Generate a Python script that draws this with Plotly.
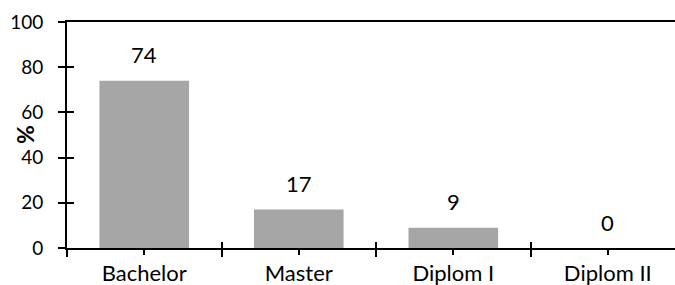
import plotly.graph_objects as go

categories = ["Bachelor", "Master", "Diplom I", "Diplom II"]
values = [74, 17, 9, 0]
y_ticks = [0, 20, 40, 60, 80, 100]
y_title = "%"

FONT = "Lato"
x_pos = list(range(len(categories)))
boundaries = [i - 0.5 for i in x_pos]
xr = [-0.5, 3.435]

fig = go.Figure()
fig.add_trace(go.Bar(x=x_pos, y=values, width=0.58, marker=dict(color="#A6A6A6", line=dict(width=0)),
                     hoverinfo="skip"))
fig.add_trace(go.Scatter(x=[None], y=[None], xaxis="x", yaxis="y2", showlegend=False, hoverinfo="skip"))
fig.add_trace(go.Scatter(x=[None], y=[None], xaxis="x2", yaxis="y", showlegend=False, hoverinfo="skip"))

for xv, v in zip(x_pos, values):
    fig.add_annotation(x=xv, y=v, text=str(v), showarrow=False, yanchor="middle", yshift=26,
                       font=dict(family=FONT, size=22, color="black"))

fig.add_annotation(x=0, y=0.5, xref="paper", yref="paper", text="<b>" + y_title + "</b>",
                   showarrow=False, textangle=-90, xanchor="center", yanchor="middle", xshift=-42,
                   font=dict(family=FONT, size=23, color="black"))

fig.update_layout(
    width=675, height=285,
    margin=dict(l=67, r=0, t=22, b=37),
    paper_bgcolor="white", plot_bgcolor="white",
    showlegend=False,
    font=dict(family=FONT, size=19, color="black"),
    xaxis=dict(range=xr, tickmode="array", tickvals=x_pos, ticktext=categories, automargin=False,
               ticks="outside", ticklen=5, tickwidth=2, tickcolor="black",
               showline=True, linecolor="black", linewidth=2, mirror=True,
               showgrid=False, zeroline=False, fixedrange=True,
               minor=dict(tickvals=boundaries, ticks="outside", ticklen=7, tickwidth=2, tickcolor="black",
                          showgrid=False),
               tickfont=dict(family=FONT, size=22, color="black")),
    xaxis2=dict(range=xr, overlaying="x", anchor="y", side="bottom", automargin=False,
                tickmode="array", tickvals=boundaries, ticks="inside", ticklen=6, tickwidth=2,
                tickcolor="black", showticklabels=False, showgrid=False, zeroline=False, showline=False),
    yaxis=dict(range=[0, 100], tickmode="array", tickvals=y_ticks, automargin=False,
               ticks="outside", ticklen=7, tickwidth=2, tickcolor="black",
               showline=True, linecolor="black", linewidth=2, fixedrange=True,
               showgrid=False, zeroline=False, ticklabelstandoff=11,
               tickfont=dict(family=FONT, size=19, color="black")),
    yaxis2=dict(range=[0, 100], overlaying="y", anchor="x", side="left", automargin=False,
                tickmode="array", tickvals=y_ticks, ticks="inside", ticklen=7, tickwidth=2,
                tickcolor="black", showticklabels=False, showgrid=False, zeroline=False, showline=False),
)

fig.write_html("out.html", config={"displayModeBar": False},
               post_script="document.body.style.margin='0';document.body.style.padding='0';"
                           "document.body.style.overflow='hidden';")
